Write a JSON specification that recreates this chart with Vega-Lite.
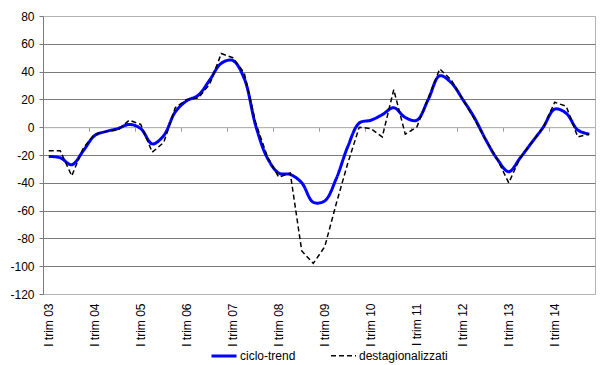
{
  "$schema": "https://vega.github.io/schema/vega-lite/v6.json",
  "width": 552,
  "height": 278,
  "autosize": {"type": "none"},
  "padding": {"left": 43, "top": 16, "right": 5, "bottom": 71},
  "background": "white",
  "config": {
    "font": "Liberation Sans",
    "view": {"stroke": "#b4b4b4", "strokeWidth": 1},
    "axisY": {
      "title": null,
      "values": [-120, -100, -80, -60, -40, -20, 0, 20, 40, 60, 80],
      "labelExpr": "'' + datum.value",
      "labelOverlap": false,
      "grid": true,
      "gridColor": {"condition": {"test": "datum.value === 0 || datum.value === 80 || datum.value === -120", "value": "#b4b4b4"}, "value": "#7a7a7a"},
      "gridWidth": 1,
      "domain": true, "domainColor": "#7a7a7a",
      "ticks": true, "tickSize": 4, "tickColor": "#7a7a7a",
      "labelPadding": 5, "labelFontSize": 12, "labelColor": "#000000", "labelFont": "Liberation Sans"
    }
  },
  "data": {
    "values": [
      {"q": 0, "ciclo-trend": -21, "destagionalizzati": -17},
      {"q": 1, "ciclo-trend": -22, "destagionalizzati": -17},
      {"q": 2, "ciclo-trend": -27, "destagionalizzati": -35},
      {"q": 3, "ciclo-trend": -17, "destagionalizzati": -15},
      {"q": 4, "ciclo-trend": -6, "destagionalizzati": -5},
      {"q": 5, "ciclo-trend": -3, "destagionalizzati": -3},
      {"q": 6, "ciclo-trend": -1, "destagionalizzati": -2},
      {"q": 7, "ciclo-trend": 2, "destagionalizzati": 5},
      {"q": 8, "ciclo-trend": -1, "destagionalizzati": 2},
      {"q": 9, "ciclo-trend": -12, "destagionalizzati": -18},
      {"q": 10, "ciclo-trend": -6, "destagionalizzati": -11},
      {"q": 11, "ciclo-trend": 11, "destagionalizzati": 14},
      {"q": 12, "ciclo-trend": 19, "destagionalizzati": 20},
      {"q": 13, "ciclo-trend": 23, "destagionalizzati": 21},
      {"q": 14, "ciclo-trend": 34, "destagionalizzati": 31},
      {"q": 15, "ciclo-trend": 46, "destagionalizzati": 53},
      {"q": 16, "ciclo-trend": 48, "destagionalizzati": 50},
      {"q": 17, "ciclo-trend": 35, "destagionalizzati": 39},
      {"q": 18, "ciclo-trend": 1, "destagionalizzati": 3},
      {"q": 19, "ciclo-trend": -22, "destagionalizzati": -21},
      {"q": 20, "ciclo-trend": -33, "destagionalizzati": -36},
      {"q": 21, "ciclo-trend": -34, "destagionalizzati": -33},
      {"q": 22, "ciclo-trend": -40, "destagionalizzati": -89},
      {"q": 23, "ciclo-trend": -54, "destagionalizzati": -98},
      {"q": 24, "ciclo-trend": -53, "destagionalizzati": -86},
      {"q": 25, "ciclo-trend": -37, "destagionalizzati": -55},
      {"q": 26, "ciclo-trend": -14, "destagionalizzati": -26},
      {"q": 27, "ciclo-trend": 3, "destagionalizzati": 0},
      {"q": 28, "ciclo-trend": 5, "destagionalizzati": -1},
      {"q": 29, "ciclo-trend": 9, "destagionalizzati": -7},
      {"q": 30, "ciclo-trend": 14, "destagionalizzati": 27},
      {"q": 31, "ciclo-trend": 7, "destagionalizzati": -5},
      {"q": 32, "ciclo-trend": 5, "destagionalizzati": 0},
      {"q": 33, "ciclo-trend": 20, "destagionalizzati": 21},
      {"q": 34, "ciclo-trend": 37, "destagionalizzati": 42},
      {"q": 35, "ciclo-trend": 32, "destagionalizzati": 34},
      {"q": 36, "ciclo-trend": 20, "destagionalizzati": 20},
      {"q": 37, "ciclo-trend": 7, "destagionalizzati": 6},
      {"q": 38, "ciclo-trend": -9, "destagionalizzati": -9},
      {"q": 39, "ciclo-trend": -23, "destagionalizzati": -23},
      {"q": 40, "ciclo-trend": -32, "destagionalizzati": -40},
      {"q": 41, "ciclo-trend": -22, "destagionalizzati": -22},
      {"q": 42, "ciclo-trend": -11, "destagionalizzati": -11},
      {"q": 43, "ciclo-trend": 0, "destagionalizzati": 0},
      {"q": 44, "ciclo-trend": 13, "destagionalizzati": 18},
      {"q": 45, "ciclo-trend": 10, "destagionalizzati": 15},
      {"q": 46, "ciclo-trend": -2, "destagionalizzati": -7},
      {"q": 47, "ciclo-trend": -5, "destagionalizzati": -5}
    ]
  },
  "transform": [{"fold": ["ciclo-trend", "destagionalizzati"], "as": ["serie", "v"]}],
  "resolve": {"axis": {"x": "independent"}},
  "layer": [
    {
      "transform": [{"filter": "datum.serie === 'ciclo-trend'"}],
      "mark": {"type": "line", "interpolate": "catmull-rom"},
      "encoding": {
        "x": {
          "field": "q", "type": "quantitative",
          "scale": {"domain": [-0.5, 47.5], "nice": false, "zero": false},
          "axis": {
            "orient": "bottom", "title": null, "grid": false, "ticks": false, "domain": false,
            "values": [0, 4, 8, 12, 16, 20, 24, 28, 32, 36, 40, 44],
            "labelExpr": "'I trim ' + (datum.value/4 + 3 < 10 ? '0' : '') + (datum.value/4 + 3)",
            "labelAngle": -90, "labelAlign": "right", "labelBaseline": "middle",
            "labelPadding": 9, "labelFontSize": 12, "labelColor": "#000000", "labelFont": "Liberation Sans"
          }
        },
        "y": {
          "field": "v", "type": "quantitative",
          "scale": {"domain": [-120, 80], "nice": false, "zero": false}
        },
        "color": {
          "field": "serie", "type": "nominal",
          "scale": {"domain": ["ciclo-trend", "destagionalizzati"], "range": ["#0000ff", "#000000"]},
          "legend": {
            "orient": "none", "legendX": 167, "legendY": 326, "direction": "horizontal",
            "title": null, "symbolType": "stroke", "symbolSize": 625,
            "labelFontSize": 12, "labelColor": "#000000", "labelFont": "Liberation Sans",
            "columnPadding": 32, "labelOffset": 2
          }
        },
        "strokeDash": {
          "field": "serie", "type": "nominal",
          "scale": {"domain": ["ciclo-trend", "destagionalizzati"], "range": [[1, 0], [5, 3]]}
        },
        "strokeWidth": {
          "field": "serie", "type": "nominal",
          "scale": {"domain": ["ciclo-trend", "destagionalizzati"], "range": [3, 1.5]}
        }
      }
    },
    {
      "transform": [{"filter": "datum.serie === 'destagionalizzati'"}],
      "mark": {"type": "line", "interpolate": "linear"},
      "encoding": {
        "x": {
          "field": "q", "type": "quantitative",
          "scale": {"domain": [-0.5, 47.5], "nice": false, "zero": false},
          "axis": {
            "orient": "bottom", "title": null, "grid": false, "labels": false,
            "values": [3.5, 7.5, 11.5, 15.5, 19.5, 23.5, 27.5, 31.5, 35.5, 39.5, 43.5],
            "ticks": true, "tickSize": 4, "tickColor": "#9a9a9a",
            "domain": true, "domainColor": "#b4b4b4", "offset": -166.8
          }
        },
        "y": {"field": "v", "type": "quantitative"},
        "color": {"field": "serie", "type": "nominal"},
        "strokeDash": {"field": "serie", "type": "nominal"},
        "strokeWidth": {"field": "serie", "type": "nominal"}
      }
    }
  ]
}
